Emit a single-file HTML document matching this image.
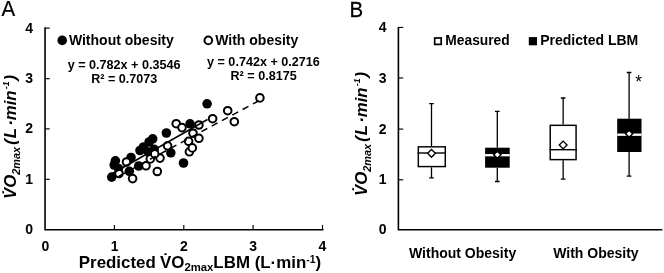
<!DOCTYPE html>
<html><head><meta charset="utf-8"><title>Figure</title>
<style>html,body{margin:0;padding:0;background:#fff}svg{display:block}text{font-family:"Liberation Sans",sans-serif;fill:#000}</style></head><body>
<svg width="664" height="273" viewBox="0 0 664 273">
<rect width="664" height="273" fill="#fff"/>
<text transform="translate(1.4 16.2) scale(0.915 1)" font-size="22.4" stroke="#000" stroke-width="0.25">A</text>
<text transform="translate(349.4 16.6) scale(0.905 1)" font-size="22.6" stroke="#000" stroke-width="0.25">B</text>
<path d="M45.05 27.3V229.7H323.5" fill="none" stroke="#000" stroke-width="1.6"/>
<path d="M45.05 179.3h4.7" stroke="#000" stroke-width="1.15"/>
<path d="M114.4 229.7v-4.8" stroke="#000" stroke-width="1.15"/>
<path d="M45.05 128.9h4.7" stroke="#000" stroke-width="1.15"/>
<path d="M183.8 229.7v-4.8" stroke="#000" stroke-width="1.15"/>
<path d="M45.05 78.7h4.7" stroke="#000" stroke-width="1.15"/>
<path d="M253.1 229.7v-4.8" stroke="#000" stroke-width="1.15"/>
<path d="M45.05 28.1h4.7" stroke="#000" stroke-width="1.15"/>
<path d="M322.5 229.7v-4.8" stroke="#000" stroke-width="1.15"/>
<text x="29.2" y="233.7" font-size="14" font-weight="bold" text-anchor="middle">0</text>
<text x="45.3" y="250.8" font-size="14" font-weight="bold" text-anchor="middle">0</text>
<text x="29.2" y="184.1" font-size="14" font-weight="bold" text-anchor="middle">1</text>
<text x="114.6" y="250.8" font-size="14" font-weight="bold" text-anchor="middle">1</text>
<text x="29.2" y="133.2" font-size="14" font-weight="bold" text-anchor="middle">2</text>
<text x="183.8" y="250.8" font-size="14" font-weight="bold" text-anchor="middle">2</text>
<text x="29.2" y="83.2" font-size="14" font-weight="bold" text-anchor="middle">3</text>
<text x="253.1" y="250.8" font-size="14" font-weight="bold" text-anchor="middle">3</text>
<text x="29.2" y="32.8" font-size="14" font-weight="bold" text-anchor="middle">4</text>
<text x="322.3" y="250.8" font-size="14" font-weight="bold" text-anchor="middle">4</text>
<text transform="translate(15.9 199) rotate(-90)" font-size="16.8" font-weight="bold" font-style="italic">V̇O<tspan font-size="10.9" dy="4.2">2max</tspan><tspan dy="-4.2" dx="-2.5"> (</tspan><tspan dx="0.9">L</tspan><tspan dx="2.1">·min</tspan><tspan font-size="8.8" dy="-6.5" dx="1.2">-1</tspan><tspan dy="6.5" dx="0.9">)</tspan></text>
<text transform="translate(366.5 196.0) rotate(-90)" font-size="16.8" font-weight="bold" font-style="italic">V̇O<tspan font-size="10.9" dy="4.2">2max</tspan><tspan dy="-4.2" dx="-2.5"> (</tspan><tspan dx="0.9">L</tspan><tspan dx="2.1">·min</tspan><tspan font-size="8.8" dy="-6.5" dx="1.2">-1</tspan><tspan dy="6.5" dx="0.9">)</tspan></text>
<text transform="translate(78.8 267.65) scale(0.977 1)" font-size="17.3" font-weight="bold">Predicted <tspan dx="-0.5">V̇O</tspan><tspan font-size="11.6" dy="3.8">2max</tspan><tspan dy="-3.8">LBM (L·min</tspan><tspan font-size="10.6" dy="-4.9">-1</tspan><tspan dy="4.9">)</tspan></text>
<circle cx="62.2" cy="40.4" r="4.8" fill="#000"/>
<text x="68.9" y="44.5" font-size="14" font-weight="bold">Without obesity</text>
<circle cx="208.3" cy="40.4" r="3.8" fill="#fff" stroke="#000" stroke-width="2"/>
<text x="215.2" y="44.5" font-size="14" font-weight="bold">With obesity</text>
<text x="124.1" y="68.6" font-size="12.6" font-weight="bold" text-anchor="middle">y = 0.782x + 0.3546</text>
<text x="124.3" y="82.5" font-size="12.6" font-weight="bold" text-anchor="middle">R² = 0.7073</text>
<text x="263.4" y="66.2" font-size="12.6" font-weight="bold" text-anchor="middle">y = 0.742x + 0.2716</text>
<text x="263.6" y="79.7" font-size="12.6" font-weight="bold" text-anchor="middle">R² = 0.8175</text>
<circle cx="111.7" cy="177.1" r="4.8" fill="#000"/>
<circle cx="118.5" cy="168.5" r="4.8" fill="#000"/>
<circle cx="115.4" cy="160.8" r="4.8" fill="#000"/>
<circle cx="114.2" cy="165" r="4.8" fill="#000"/>
<circle cx="131" cy="157.5" r="4.8" fill="#000"/>
<circle cx="138.7" cy="166" r="4.8" fill="#000"/>
<circle cx="129.3" cy="171.3" r="4.8" fill="#000"/>
<circle cx="183.5" cy="163" r="4.8" fill="#000"/>
<circle cx="170.8" cy="152.8" r="4.8" fill="#000"/>
<circle cx="166.4" cy="133.0" r="4.8" fill="#000"/>
<circle cx="152.7" cy="138.8" r="4.8" fill="#000"/>
<circle cx="149.1" cy="142" r="4.8" fill="#000"/>
<circle cx="143.5" cy="147" r="4.8" fill="#000"/>
<circle cx="140" cy="150.5" r="4.8" fill="#000"/>
<circle cx="154.2" cy="149.3" r="4.8" fill="#000"/>
<circle cx="190" cy="123.8" r="4.8" fill="#000"/>
<circle cx="207.1" cy="103.8" r="4.8" fill="#000"/>
<circle cx="148.4" cy="152.1" r="4.8" fill="#000"/>
<circle cx="126.5" cy="162" r="3.8" fill="#fff" stroke="#000" stroke-width="2"/>
<circle cx="132.6" cy="178.6" r="3.8" fill="#fff" stroke="#000" stroke-width="2"/>
<circle cx="119" cy="173.5" r="3.8" fill="#fff" stroke="#000" stroke-width="2"/>
<circle cx="146" cy="165.8" r="3.8" fill="#fff" stroke="#000" stroke-width="2"/>
<circle cx="157.3" cy="171.5" r="3.8" fill="#fff" stroke="#000" stroke-width="2"/>
<circle cx="150.3" cy="158.9" r="3.8" fill="#fff" stroke="#000" stroke-width="2"/>
<circle cx="160" cy="158.1" r="3.8" fill="#fff" stroke="#000" stroke-width="2"/>
<circle cx="154.7" cy="153.9" r="3.8" fill="#fff" stroke="#000" stroke-width="2"/>
<circle cx="189.4" cy="151.8" r="3.8" fill="#fff" stroke="#000" stroke-width="2"/>
<circle cx="176.2" cy="123.7" r="3.8" fill="#fff" stroke="#000" stroke-width="2"/>
<circle cx="182" cy="127.6" r="3.8" fill="#fff" stroke="#000" stroke-width="2"/>
<circle cx="198.9" cy="125" r="3.8" fill="#fff" stroke="#000" stroke-width="2"/>
<circle cx="193" cy="133.2" r="3.8" fill="#fff" stroke="#000" stroke-width="2"/>
<circle cx="198.9" cy="138.3" r="3.8" fill="#fff" stroke="#000" stroke-width="2"/>
<circle cx="188.6" cy="141.3" r="3.8" fill="#fff" stroke="#000" stroke-width="2"/>
<circle cx="192.3" cy="147.9" r="3.8" fill="#fff" stroke="#000" stroke-width="2"/>
<circle cx="167.6" cy="145.8" r="3.8" fill="#fff" stroke="#000" stroke-width="2"/>
<circle cx="212.6" cy="118.7" r="3.8" fill="#fff" stroke="#000" stroke-width="2"/>
<circle cx="227.7" cy="110.7" r="3.8" fill="#fff" stroke="#000" stroke-width="2"/>
<circle cx="234.3" cy="121.7" r="3.8" fill="#fff" stroke="#000" stroke-width="2"/>
<circle cx="259.9" cy="97.9" r="3.8" fill="#fff" stroke="#000" stroke-width="2"/>
<path d="M111.7 174.0L207.5 119.5" stroke="#000" stroke-width="1.5" fill="none"/>
<path d="M119.0 176.1L260.0 100.1" stroke="#000" stroke-width="1.5" fill="none" stroke-dasharray="6.7 5"/>
<path d="M398.4 26.9V229.7H662.3" fill="none" stroke="#000" stroke-width="1.6"/>
<path d="M398.4 179.80h4.8" stroke="#000" stroke-width="1.15"/>
<path d="M398.4 129.10h4.8" stroke="#000" stroke-width="1.15"/>
<path d="M398.4 78.00h4.8" stroke="#000" stroke-width="1.15"/>
<path d="M398.4 27.46h4.8" stroke="#000" stroke-width="1.15"/>
<text x="382.7" y="233.7" font-size="14" font-weight="bold" text-anchor="middle">0</text>
<text x="382.7" y="184.4" font-size="14" font-weight="bold" text-anchor="middle">1</text>
<text x="382.7" y="133.5" font-size="14" font-weight="bold" text-anchor="middle">2</text>
<text x="382.7" y="82.5" font-size="14" font-weight="bold" text-anchor="middle">3</text>
<text x="382.7" y="32.1" font-size="14" font-weight="bold" text-anchor="middle">4</text>
<rect x="434.7" y="38" width="6.5" height="6.4" fill="#fff" stroke="#000" stroke-width="1.7"/>
<text x="445.3" y="45.2" font-size="13.8" font-weight="bold">Measured</text>
<rect x="528.8" y="37.1" width="8.2" height="8.2" fill="#000"/>
<text x="540.2" y="45.2" font-size="14" font-weight="bold">Predicted LBM</text>
<text x="409" y="257.6" font-size="14" font-weight="bold">Without Obesity</text>
<text x="553.2" y="257.6" font-size="14" font-weight="bold">With Obesity</text>
<text x="638.6" y="88.2" font-size="17.5" text-anchor="middle">*</text>
<path d="M431.5 103.6V146.1M431.5 167.3V177.9M429.2 103.6h4.6M429.2 177.9h4.6" stroke="#000" stroke-width="1.3" fill="none"/><rect x="418.32" y="146.82" width="26.96" height="19.76" fill="#fff" stroke="#000" stroke-width="1.45"/><path d="M417.6 153H446" stroke="#000" stroke-width="1.4"/><path d="M427.6 153.3L431.5 149.4L435.4 153.3L431.5 157.20000000000002Z" fill="#fff" stroke="#000" stroke-width="1.35"/>
<path d="M497.3 111.3V147.7M497.3 167.7V181.5M495.0 111.3h4.6M495.0 181.5h4.6" stroke="#000" stroke-width="1.3" fill="none"/><rect x="485.1" y="147.7" width="24.6" height="20.0" fill="#000"/><path d="M485.1 155.2H509.7" stroke="#fff" stroke-width="2.3"/><path d="M493.7 154.8L497.3 151.2L500.9 154.8L497.3 158.4Z" fill="#fff" stroke="#000" stroke-width="1.5"/>
<path d="M563.15 98V124.6M563.15 160.35V179.2M560.85 98h4.6M560.85 179.2h4.6" stroke="#000" stroke-width="1.3" fill="none"/><rect x="550.22" y="125.32" width="25.86" height="34.31" fill="#fff" stroke="#000" stroke-width="1.45"/><path d="M549.5 149.7H576.8" stroke="#000" stroke-width="1.4"/><path d="M559.25 145L563.15 141.1L567.05 145L563.15 148.9Z" fill="#fff" stroke="#000" stroke-width="1.35"/>
<path d="M629.1 72.5V118.7M629.1 152.0V176.1M626.8000000000001 72.5h4.6M626.8000000000001 176.1h4.6" stroke="#000" stroke-width="1.3" fill="none"/><rect x="617.2" y="118.7" width="24.3" height="33.3" fill="#000"/><path d="M617.2 134.7H641.5" stroke="#fff" stroke-width="2.3"/><path d="M625.5 133.7L629.1 130.1L632.7 133.7L629.1 137.3Z" fill="#fff" stroke="#000" stroke-width="1.5"/>
</svg></body></html>
